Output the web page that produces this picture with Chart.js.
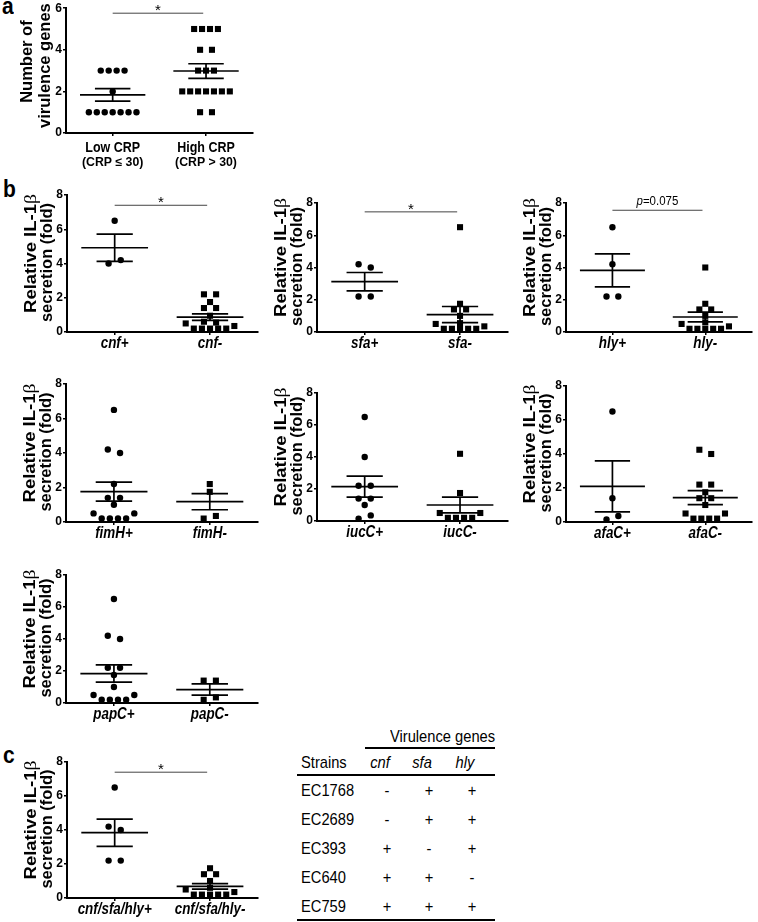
<!DOCTYPE html>
<html>
<head>
<meta charset="utf-8">
<script src="https://cdn.jsdelivr.net/npm/chart.js@4.4.1/dist/chart.umd.min.js"></script>
<style>
  body { margin: 0; background: #fff; width: 758px; height: 922px; position: relative; overflow: hidden;
         font-family: "Liberation Sans", Arial, sans-serif; color: #000; }
  canvas { position: absolute; }
  .tag { position: absolute; font-weight: bold; font-size: 21px; line-height: 21px; transform: scaleY(1.1); }
  .t { position: absolute; font-size: 14.7px; line-height: 14px; height: 14px; white-space: nowrap; transform: scaleY(1.1); }
  .rule { position: absolute; background: #000; }
</style>
</head>
<body>
<div class="tag" style="left:2px;top:-5px">a</div>
<div class="tag" style="left:3px;top:178px">b</div>
<div class="tag" style="left:3px;top:744px">c</div>
<div id="table"></div>
<script>
// ---- panel a: number of virulence genes
const aCats = [["Low CRP", "(CRP \u2264 30)"], ["High CRP", "(CRP > 30)"]];
const aLow = [3, 3, 3, 3, 2, 1, 1, 1, 1, 1, 1, 1];
const aHigh = [5, 5, 5, 5, 4, 4, 3, 3, 3, 2, 2, 2, 2, 2, 2, 2, 1, 1];
const aMean = [1.83, 2.98];
const aSem = [0.3, 0.35];

// ---- panel b: relative IL-1b secretion (fold)
const cnfCats = ["cnf+", "cnf-"];
const cnfPos = [6.5, 4.0, 4.2];
const cnfNeg = [2.2, 2.2, 1.75, 1.4, 1.4, 0.95, 0.6, 0.55, 0.5, 0.2, 0.2, 0.2, 0.2, 0.2, 0.35];
const cnfMean = [4.92, 0.87];
const cnfSem = [0.8, 0.19];

const sfaCats = ["sfa+", "sfa-"];
const sfaPos = [4.2, 4.0, 2.2, 2.2];
const sfaNeg = [6.5, 1.75, 1.4, 1.4, 1.0, 0.55, 0.5, 0.2, 0.2, 0.2, 0.2, 0.2, 0.35];
const sfaMean = [3.12, 1.08];
const sfaSem = [0.57, 0.5];

const hlyCats = ["hly+", "hly-"];
const hlyPos = [6.5, 4.2, 2.2, 2.2];
const hlyNeg = [4.0, 1.75, 1.4, 1.4, 1.0, 0.6, 0.5, 0.2, 0.2, 0.2, 0.2, 0.2, 0.35];
const hlyMean = [3.82, 0.93];
const hlySem = [1.02, 0.3];

const fimHCats = ["fimH+", "fimH-"];
const fimHPos = [6.5, 4.2, 4.0, 2.2, 1.4, 1.4, 1.0, 0.5, 0.2, 0.2, 0.2, 0.2, 0.5];
const fimHNeg = [2.2, 1.75, 0.2, 0.35];
const fimHMean = [1.76, 1.18];
const fimHSem = [0.55, 0.47];

const iucCCats = ["iucC+", "iucC-"];
const iucCPos = [6.5, 4.0, 2.2, 2.2, 1.4, 1.4, 1.0, 0.15, 0.35];
const iucCNeg = [4.2, 1.75, 0.5, 0.2, 0.2, 0.2, 0.2, 0.5];
const iucCMean = [2.15, 1.0];
const iucCSem = [0.66, 0.49];

const afaCCats = ["afaC+", "afaC-"];
const afaCPos = [6.5, 1.4, 0.15, 0.35];
const afaCNeg = [4.25, 4.0, 2.2, 2.2, 1.75, 1.4, 1.4, 1.0, 0.5, 0.2, 0.2, 0.2, 0.2, 0.5];
const afaCMean = [2.1, 1.43];
const afaCSem = [1.5, 0.41];

const papCCats = ["papC+", "papC-"];
const papCPos = [6.5, 4.2, 4.0, 2.2, 2.2, 1.75, 1.0, 0.5, 0.2, 0.2, 0.2, 0.2, 0.5];
const papCNeg = [1.4, 1.4, 0.2, 0.35];
const papCMean = [1.84, 0.84];
const papCSem = [0.54, 0.35];

// ---- panel c
const cCats = ["cnf/sfa/hly+", "cnf/sfa/hly-"];
const cPos = [6.5, 4.2, 4.0, 2.2, 2.2];
const cNeg = [1.75, 1.4, 1.4, 1.0, 0.6, 0.5, 0.2, 0.2, 0.2, 0.2, 0.2, 0.35];
const cMean = [3.84, 0.68];
const cSem = [0.8, 0.16];

// ---- strain table
const strains = ["EC1768", "EC2689", "EC393", "EC640", "EC759"];
const geneCols = ["cnf", "sfa", "hly"];
const hasCnf = ["-", "-", "+", "+", "+"];
const hasSfa = ["+", "+", "-", "+", "+"];
const hasHly = ["+", "+", "+", "-", "+"];

const FAMILY = '"Liberation Sans", Arial, sans-serif';
Chart.defaults.font.family = FAMILY;
const IL = [["Relative IL-1", "\u03b2"], ["secretion (fold)"]];
const NV = [["Number of"], ["virulence genes"]];

// dot plot layout: near-equal values share a row, spread round the category
function spread(values, cat) {
    const step = 0.085;
    const idx = values.map((v, i) => i).sort((i, j) => values[i] - values[j]);
    const rows = [];
    idx.forEach(i => {
        const row = rows[rows.length - 1];
        if (row && values[i] - values[row[0]] < 0.32) row.push(i);
        else rows.push([i]);
    });
    const pts = [];
    rows.forEach(row => {
        row.sort((i, j) => i - j);
        const n = row.length, k = n === 2 ? 1.5 : 1;
        row.forEach((i, j) => pts.push({ x: cat + (j - (n - 1) / 2) * step * k, y: values[i] }));
    });
    return pts;
}

// horizontal text, a little taller than wide like the scanned figure
function htext(ctx, s, font, x, y, sy) {
    ctx.save();
    ctx.translate(x, y);
    ctx.scale(1, sy);
    ctx.font = font;
    ctx.textAlign = "center";
    ctx.textBaseline = "middle";
    ctx.fillText(s, 0, 0);
    ctx.restore();
}

// rotated axis title line; second part (beta) set in a light serif face
function vtext(ctx, parts, size, x, y, stretch) {
    ctx.save();
    ctx.translate(x, y);
    ctx.rotate(-Math.PI / 2);
    ctx.scale(stretch, 1);
    const fonts = parts.map((p, i) => i === 0 ? "bold " + size + "px " + FAMILY : (size + 1) + "px \"Liberation Serif\", serif");
    let w = 0;
    parts.forEach((p, i) => { ctx.font = fonts[i]; w += ctx.measureText(p).width; });
    let px = -w / 2;
    ctx.textAlign = "left";
    ctx.textBaseline = "middle";
    parts.forEach((p, i) => {
        ctx.font = fonts[i];
        ctx.fillText(p, px, 0);
        px += ctx.measureText(p).width;
    });
    ctx.restore();
}

function decor(cfg) {
    return {
        id: "decor",
        afterDatasetsDraw(chart) {
            const { ctx, scales: { x, y }, chartArea } = chart;
            const hl = (x0, x1, v) => {
                ctx.beginPath();
                ctx.moveTo(x.getPixelForValue(x0), y.getPixelForValue(v));
                ctx.lineTo(x.getPixelForValue(x1), y.getPixelForValue(v));
                ctx.stroke();
            };
            ctx.save();
            ctx.strokeStyle = "#000";
            ctx.lineWidth = 1.7;
            cfg.mean.forEach((m, i) => {
                const c = i + 1, s = cfg.sem[i];
                hl(c - 0.35, c + 0.35, m);
                hl(c - 0.19, c + 0.19, m + s);
                hl(c - 0.19, c + 0.19, m - s);
                ctx.beginPath();
                ctx.moveTo(x.getPixelForValue(c), y.getPixelForValue(m + s));
                ctx.lineTo(x.getPixelForValue(c), y.getPixelForValue(m - s));
                ctx.stroke();
            });
            if (cfg.sig) {
                const yy = y.getPixelForValue(cfg.sig.y);
                const x0 = x.getPixelForValue(1), x1 = x.getPixelForValue(1.97);
                ctx.strokeStyle = "#444";
                ctx.lineWidth = 1;
                ctx.beginPath();
                ctx.moveTo(x0, yy);
                ctx.lineTo(x1, yy);
                ctx.stroke();
                ctx.fillStyle = "#000";
                const mid = (x0 + x1) / 2;
                if (cfg.sig.text === "*") {
                    ctx.font = "15px " + FAMILY;
                    ctx.textAlign = "center";
                    ctx.textBaseline = "alphabetic";
                    ctx.fillText("*", mid, yy + 2);
                } else {
                    ctx.textBaseline = "middle";
                    ctx.font = "italic 11.5px " + FAMILY;
                    const pw = ctx.measureText("p").width;
                    ctx.font = "11.5px " + FAMILY;
                    const rest = cfg.sig.text.slice(1);
                    const rw = ctx.measureText(rest).width;
                    const sx = mid - (pw + rw) / 2;
                    ctx.save();
                    ctx.translate(0, yy - 9);
                    ctx.scale(1, 1.15);
                    ctx.textAlign = "left";
                    ctx.font = "italic 11.5px " + FAMILY;
                    ctx.fillText("p", sx, 0);
                    ctx.font = "11.5px " + FAMILY;
                    ctx.fillText(rest, sx + pw, 0);
                    ctx.restore();
                }
            }
            ctx.fillStyle = "#000";
            cfg.cats.forEach((lab, i) => {
                const px = x.getPixelForValue(i + 1);
                if (Array.isArray(lab)) {
                    htext(ctx, lab[0], "bold 12.5px " + FAMILY, px, chartArea.bottom + 15, 1.22);
                    htext(ctx, lab[1], "bold 12.3px " + FAMILY, px, chartArea.bottom + 30, 1.0);
                } else {
                    htext(ctx, lab, "italic bold 13.4px " + FAMILY, px, chartArea.bottom + 12, 1.2);
                }
            });
            // y-axis title, two rotated lines
            const midY = (chartArea.top + chartArea.bottom) / 2;
            const t = cfg.title;
            vtext(ctx, t.lines[0], t.size, chartArea.left + t.dx[0], midY + t.dy[0], t.stretch[0]);
            vtext(ctx, t.lines[1], t.size, chartArea.left + t.dx[1], midY + t.dy[1], t.stretch[1]);
            ctx.restore();
        }
    };
}

function panel(cfg) {
    const padTop = cfg.padTop || 10, padRight = 4, yW = 67, xH = cfg.xH || 28;
    const cv = document.createElement("canvas");
    cv.width = cfg.R - cfg.L + yW + padRight;
    cv.height = cfg.B - cfg.T + padTop + xH;
    cv.style.left = (cfg.L - yW) + "px";
    cv.style.top = (cfg.T - padTop) + "px";
    document.body.appendChild(cv);
    const axisGrid = { drawOnChartArea: false, drawTicks: true, tickLength: 3, color: "#000", lineWidth: 1.5 };
    const axisBorder = { color: "#000", width: 2 };
    new Chart(cv, {
        type: "scatter",
        data: {
            datasets: cfg.groups.map((g, i) => ({
                data: spread(g, i + 1),
                pointStyle: cfg.shapes[i],
                pointRadius: cfg.shapes[i] === "rect" ? 4.3 : 3.2,
                pointHoverRadius: cfg.shapes[i] === "rect" ? 4.3 : 3.2,
                backgroundColor: "#000",
                borderColor: "#000",
                borderWidth: 0,
                clip: false
            }))
        },
        options: {
            responsive: false,
            animation: false,
            events: [],
            layout: { padding: { top: padTop, right: padRight, left: 0, bottom: 0 } },
            plugins: { legend: { display: false }, tooltip: { enabled: false } },
            scales: {
                x: {
                    type: "linear", min: 0.5, max: 2.5,
                    afterBuildTicks: s => { s.ticks = [{ value: 1 }, { value: 2 }]; },
                    afterFit: s => { s.height = xH; },
                    ticks: { display: false },
                    grid: axisGrid,
                    border: axisBorder
                },
                y: {
                    min: 0, max: cfg.max,
                    afterFit: s => { s.width = yW; },
                    ticks: { stepSize: 2, color: "#000", padding: 1, font: { weight: "bold", size: 12 } },
                    grid: axisGrid,
                    border: axisBorder
                }
            }
        },
        plugins: [decor(cfg)]
    });
}

const round = ["circle", "rect"];
const ilTitle = { lines: IL, size: 16.5, dx: [-36, -19.5], dy: [-10, -1], stretch: [1.12, 1.0] };
const nvTitle = { lines: NV, size: 16.5, dx: [-39, -20.5], dy: [-9, -5], stretch: [1.0, 1.0] };

panel({ L: 66, T: 7, B: 133, R: 253, max: 6, padTop: 7, xH: 40, title: nvTitle,
        cats: aCats, groups: [aLow, aHigh], mean: aMean, sem: aSem,
        shapes: round, sig: { y: 5.76, text: "*" } });
panel({ L: 67, T: 195, B: 332, R: 258, max: 8, title: ilTitle, cats: cnfCats, groups: [cnfPos, cnfNeg],
        mean: cnfMean, sem: cnfSem, shapes: round, sig: { y: 7.4, text: "*" } });
panel({ L: 317, T: 203, B: 332, R: 508, max: 8, title: ilTitle, cats: sfaCats, groups: [sfaPos, sfaNeg],
        mean: sfaMean, sem: sfaSem, shapes: round, sig: { y: 7.45, text: "*" } });
panel({ L: 566, T: 203, B: 332, R: 752, max: 8, title: ilTitle, cats: hlyCats, groups: [hlyPos, hlyNeg],
        mean: hlyMean, sem: hlySem, shapes: round, sig: { y: 7.55, text: "p=0.075" } });
panel({ L: 66, T: 384, B: 522, R: 258, max: 8, title: ilTitle, cats: fimHCats, groups: [fimHPos, fimHNeg],
        mean: fimHMean, sem: fimHSem, shapes: round });
panel({ L: 317, T: 393, B: 521, R: 508, max: 8, title: ilTitle, cats: iucCCats, groups: [iucCPos, iucCNeg],
        mean: iucCMean, sem: iucCSem, shapes: round });
panel({ L: 566, T: 386, B: 522, R: 752, max: 8, title: ilTitle, cats: afaCCats, groups: [afaCPos, afaCNeg],
        mean: afaCMean, sem: afaCSem, shapes: round });
panel({ L: 66, T: 575, B: 703, R: 258, max: 8, title: ilTitle, cats: papCCats, groups: [papCPos, papCNeg],
        mean: papCMean, sem: papCSem, shapes: round });
panel({ L: 67, T: 762, B: 898, R: 258, max: 8, title: ilTitle, cats: cCats, groups: [cPos, cNeg],
        mean: cMean, sem: cSem, shapes: round, sig: { y: 7.4, text: "*" } });

// ---- table
const tbl = document.getElementById("table");
function txt(s, x, cy, align, italic) {
    const d = document.createElement("div");
    d.className = "t";
    d.textContent = s;
    d.style.top = (cy - 7) + "px";
    if (align === "center") { d.style.left = (x - 50) + "px"; d.style.width = "100px"; d.style.textAlign = "center"; }
    else d.style.left = x + "px";
    if (italic) d.style.fontStyle = "italic";
    tbl.appendChild(d);
}
function rule(x0, x1, y, w) {
    const d = document.createElement("div");
    d.className = "rule";
    d.style.left = x0 + "px"; d.style.width = (x1 - x0) + "px";
    d.style.top = (y - w / 2) + "px"; d.style.height = w + "px";
    tbl.appendChild(d);
}
const headX = [380, 422, 465], markX = [387, 429, 472];
txt("Virulence genes", 440, 737, "center");
rule(365, 495, 748, 1.5);
txt("Strains", 301, 763);
geneCols.forEach((g, i) => txt(g, headX[i], 763, "center", true));
rule(297, 495, 775, 2);
[hasCnf, hasSfa, hasHly].forEach((col, j) => col.forEach((m, i) => txt(m, markX[j], 791 + i * 29, "center")));
strains.forEach((s, i) => txt(s, 301, 791 + i * 29));
rule(297, 495, 920, 2);
</script>
</body>
</html>
